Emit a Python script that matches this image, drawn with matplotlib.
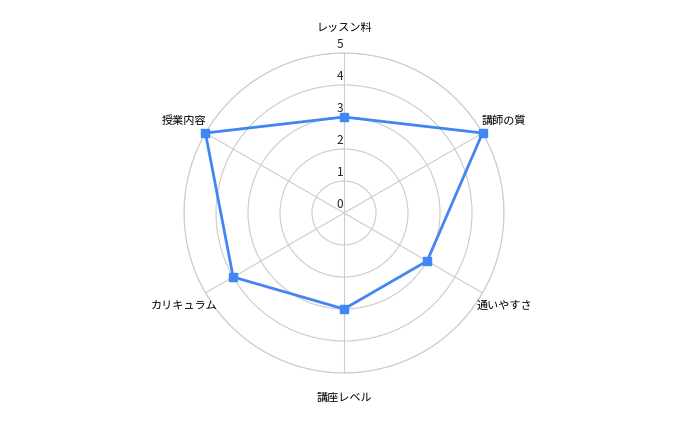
import numpy as np
import matplotlib
matplotlib.use("Agg")
import matplotlib.pyplot as plt
from matplotlib.transforms import offset_copy

plt.rcParams['font.family'] = ['Noto Sans CJK JP', 'DejaVu Sans']

categories = ['レッスン料', '講師の質', '通いやすさ', '講座レベル', 'カリキュラム', '授業内容']
values = [3, 5, 3, 3, 4, 5]
ticks = [0, 1, 2, 3, 4, 5]

fig = plt.figure(figsize=(6.88, 4.25), dpi=100)
ax = fig.add_axes([(344 - 160) / 688, (425 - 213 - 160) / 425, 320 / 688, 320 / 425], polar=True)
ax.set_theta_zero_location('N')
ax.set_theta_direction(-1)

n = len(categories)
angles = np.linspace(0, 2 * np.pi, n, endpoint=False)

ax.set_ylim(0, 5)
ax.set_yticks(ticks[1:])
ax.set_yticklabels([])
ax.set_xticks(angles)
ax.set_xticklabels([])
ax.grid(True, color='#cccccc', linewidth=0.8)
ax.spines['polar'].set_color('#cccccc')
ax.spines['polar'].set_linewidth(0.8)
ax.tick_params(length=0)

# category labels
for a, c in zip(angles, categories):
    ax.text(a, 5.78, c, ha='center', va='center', fontsize=8, color='#000000')

# radial tick labels
tr = offset_copy(ax.transData, fig=fig, x=-4, y=2, units='dots')
for t in ticks:
    ax.text(0, t, str(t), ha='center', va='bottom', fontsize=8.5, color='#222222', transform=tr)

a_closed = np.concatenate([angles, angles[:1]])
v_closed = values + values[:1]
ax.plot(a_closed, v_closed, color='#4285F4', linewidth=2, clip_on=False, zorder=3)
ax.plot(angles, values, linestyle='none', marker='s', markersize=6, color='#4285F4', clip_on=False, zorder=4)

fig.savefig('out.png', dpi=100)
